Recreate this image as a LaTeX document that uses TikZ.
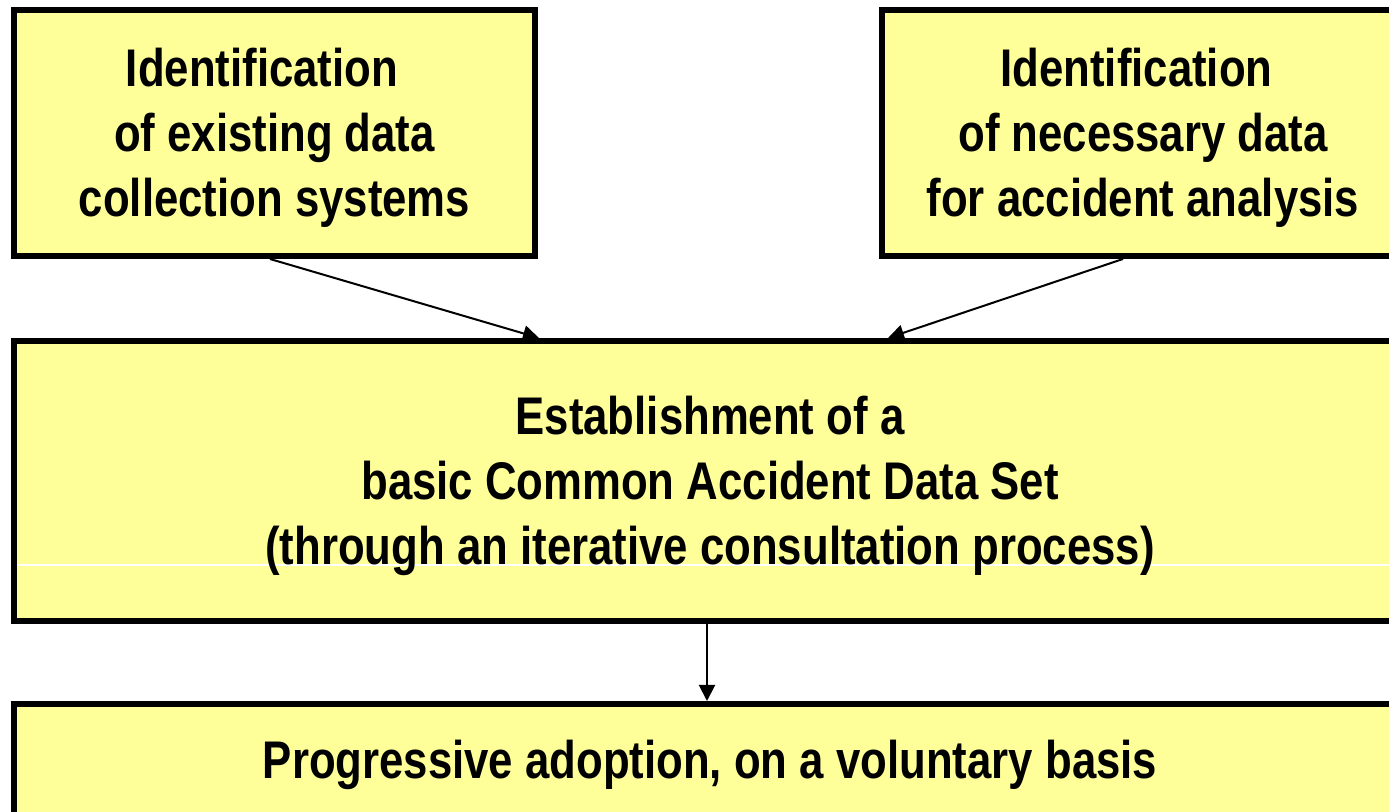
\documentclass[tikz,border=0pt]{standalone}
\usepackage{fontspec}
\newfontfamily\boxfont{Liberation Sans}[FakeStretch=0.825]
\usetikzlibrary{arrows.meta,calc}
\definecolor{boxyellow}{HTML}{FFFF99}
\tikzset{
  box/.style={draw=black, line width=3pt, fill=boxyellow, inner sep=0pt, outer sep=0pt},
  boxtext/.style={align=center, inner sep=0pt, font=\boxfont\bfseries\fontsize{26.5}{32.5}\selectfont},
  conn/.style={-{Triangle[length=8pt,width=8pt]}, line width=1pt}
}
\begin{document}
\begin{tikzpicture}[x=0.5pt,y=-0.5pt]
\useasboundingbox (0,0) rectangle (1389,812);
\clip (0,0) rectangle (1389,812);
\node[box, minimum width=260.5pt, minimum height=123pt] (L) at (274.5,133) {};
\node[box, minimum width=261pt, minimum height=123pt] (R) at (1143,133) {};
\node[box, minimum width=696pt, minimum height=140pt,
  path picture={\draw[white,line width=0.6pt] ([yshift=-42pt]path picture bounding box.west) -- ([yshift=-42pt]path picture bounding box.east);}] (M) at (710,481) {};
\node[box, minimum width=696pt, minimum height=98pt] (B) at (710,802) {};
\node[boxtext] (Lt) at ([yshift=-2.5pt]L.center) {Identification\hspace*{12.5pt}\\of existing data\\collection systems};
\node[boxtext] (Rt) at ([yshift=-2.5pt]R.center) {Identification\hspace*{6.5pt}\\of necessary data\\for accident analysis};
\node[boxtext] (Mt) at ([yshift=-2.5pt]M.center) {Establishment of a\\basic Common Accident Data Set\\(through an iterative consultation process)};
\node[boxtext, anchor=base] (Bt) at (710,779) {Progressive adoption, on a voluntary basis};
\draw[conn] ([xshift=-2.25pt,yshift=-1.5pt]L.south) -- ([xshift=-85.5pt,yshift=1.5pt]M.north);
\draw[conn] ([xshift=-10pt,yshift=-1.5pt]R.south) -- ([xshift=89pt,yshift=1.5pt]M.north);
\draw[conn] ([xshift=-1.5pt,yshift=-1.5pt]M.south) -- ([xshift=-1.5pt,yshift=1.5pt]B.north);
\end{tikzpicture}
\end{document}
